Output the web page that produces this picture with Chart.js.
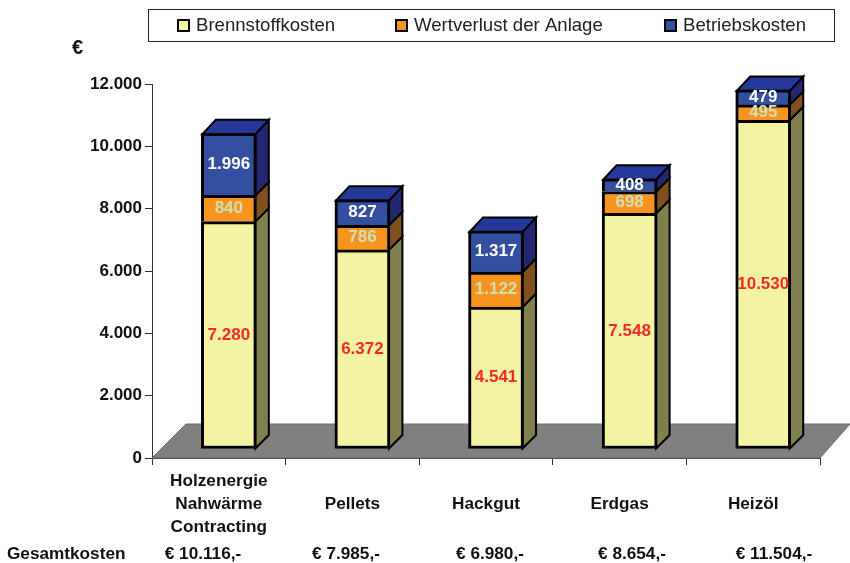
<!DOCTYPE html>
<html><head><meta charset="utf-8">
<style>html,body{margin:0;padding:0;background:#fff}canvas{display:block}</style>
<script src="https://cdn.jsdelivr.net/npm/chart.js@4"></script>
</head><body><div style="width:850px;height:563px"><canvas id="c" width="850" height="563"></canvas></div>
<script>
const categories=[["Holzenergie","Nahwärme","Contracting"],["","Pellets",""],["","Hackgut",""],["","Erdgas",""],["","Heizöl",""]];
const brennstoff=[7280,6372,4541,7548,10530];
const wertverlust=[840,786,1122,698,495];
const betrieb=[1996,827,1317,408,479];
const totals=["€ 10.116,-","€ 7.985,-","€ 6.980,-","€ 8.654,-","€ 11.504,-"];
const seriesNames=["Brennstoffkosten","Wertverlust der Anlage","Betriebskosten"];
const fills=["#F4F3A2","#F7941D","#324FA0"];
const sides=["#80804E","#80501C","#232670"];
const tops=["#F4F3A2","#F7941D","#24399A"];
const labelColors=["#F02A2A","#CFE0B4","#FFFFFF"];
const totalX=[203,346,490,632,774];
const legendX=[177,395,664];
const FONT='"Liberation Sans",Arial,sans-serif';
const D=13.5;
const fmt=v=>String(v).replace(/\B(?=(\d{3})+$)/g,".");
const mk=(a)=>a.map((v,i)=>({x:i,y:v}));
const scene={id:"scene",
 beforeDatasetsDraw(ch){
  const c=ch.ctx,xs=ch.scales.x,ys=ch.scales.y;
  const y0=ys.getPixelForValue(0),l=xs.left,r=xs.right;
  c.save();c.fillStyle="#808080";c.strokeStyle="#6a6a6a";c.lineWidth=1;
  c.beginPath();c.moveTo(l,y0);c.lineTo(r,y0);c.lineTo(850,y0-34);c.lineTo(l+34,y0-34);c.closePath();c.fill();c.stroke();
  c.lineJoin="miter";c.strokeStyle="#000";c.lineWidth=2;
  ch.data.datasets.forEach((ds,k)=>{
   ch.getDatasetMeta(k).data.forEach(b=>{
    const R=b.x+b.width/2-1,L=b.x-b.width/2+1;
    c.fillStyle=sides[k];
    c.beginPath();c.moveTo(R,b.base);c.lineTo(R+D,b.base-D);c.lineTo(R+D,b.y-D);c.lineTo(R,b.y);c.closePath();c.fill();c.stroke();
    if(k===2){c.fillStyle=tops[k];
     c.beginPath();c.moveTo(L,b.y+1);c.lineTo(L+D,b.y-D);c.lineTo(R+D,b.y-D);c.lineTo(R,b.y+1);c.closePath();c.fill();c.stroke();}
   });
  });
  c.restore();
 },
 afterDatasetsDraw(ch){
  const c=ch.ctx;c.save();
  c.textAlign="center";c.textBaseline="middle";c.font="bold 17px "+FONT;
  ch.data.datasets.forEach((ds,k)=>{
   ch.getDatasetMeta(k).data.forEach((b,i)=>{
    c.fillStyle=labelColors[k];
    c.fillText(fmt(ds.data[i].y),b.x,(b.y+b.base)/2);
   });
  });
  c.restore();
 },
 afterDraw(ch){
  const c=ch.ctx;c.save();
  c.fillStyle="#fff";c.strokeStyle="#222";c.lineWidth=1;c.strokeRect(148.5,9.5,686,32);
  c.textBaseline="middle";c.textAlign="left";
  seriesNames.forEach((n,k)=>{
   const x=legendX[k];
   c.fillStyle=fills[k];c.strokeStyle="#000";c.lineWidth=2;
   c.fillRect(x,19,13,13);c.strokeRect(x+1,20,11,11);
   c.fillStyle="#222";c.font="18.6px "+FONT;
   c.fillText(n,x+19,26);
  });
  c.fillStyle="#111";c.font="bold 20px "+FONT;
  c.fillText("€",72,48);
  c.font="bold 17.2px "+FONT;
  c.fillText("Gesamtkosten",7,554);
  c.textAlign="center";
  totals.forEach((t,i)=>c.fillText(t,totalX[i],554));
  c.restore();
 }};
new Chart(document.getElementById("c"),{
 type:"bar",
 data:{labels:categories,datasets:seriesNames.map((n,k)=>({
  label:n,data:mk([brennstoff,wertverlust,betrieb][k]),xAxisID:"bx",yAxisID:"by",
  backgroundColor:fills[k],borderColor:"#000",borderSkipped:false,
  borderWidth:{top:3,left:3,right:3,bottom:k===0?3:0},barThickness:55}))},
 plugins:[scene],
 options:{responsive:false,animation:false,
  layout:{padding:{top:84,right:30,left:0,bottom:0}},
  plugins:{legend:{display:false},tooltip:{enabled:false}},
  scales:{
   x:{type:"category",position:"bottom",offset:true,
    afterFit:s=>{s.height=105},
    border:{color:"#333",width:1},
    grid:{drawOnChartArea:false,tickLength:7,color:"#333",offset:true},
    ticks:{autoSkip:false,maxRotation:0,color:"#111",padding:5,font:{family:FONT,size:17.2,weight:"bold",lineHeight:1.34}}},
   y:{min:0,max:12000,position:"left",
    afterFit:s=>{s.width=152},
    border:{color:"#333",width:1},
    grid:{drawOnChartArea:false,tickLength:7,color:"#333"},
    ticks:{stepSize:2000,color:"#111",padding:3,font:{family:FONT,size:17,weight:"bold"},callback:v=>fmt(v)}},
   bx:{type:"linear",display:false,offset:false,stacked:true,min:-0.575,max:4.425},
   by:{display:false,stacked:true,min:-305,max:11695}
  }}
});
</script></body></html>
